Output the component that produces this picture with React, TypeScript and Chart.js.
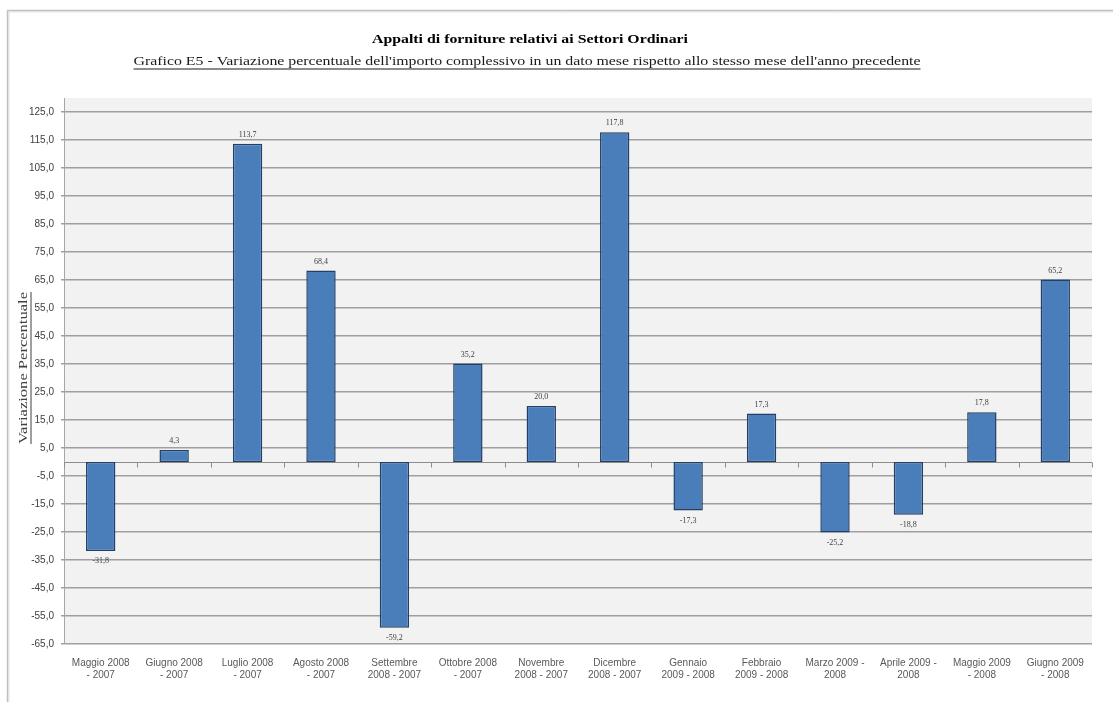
import React, { useEffect, useRef } from "react";
import { Chart, registerables } from "chart.js";

Chart.register(...registerables);

const TITLE = "Appalti di forniture relativi ai Settori Ordinari";
const SUBTITLE =
  "Grafico E5 - Variazione percentuale dell'importo complessivo in un dato mese rispetto allo stesso mese dell'anno precedente";
const Y_TITLE = "Variazione Percentuale";

const categories: string[][] = [
  ["Maggio 2008", "- 2007"],
  ["Giugno 2008", "- 2007"],
  ["Luglio 2008", "- 2007"],
  ["Agosto 2008", "- 2007"],
  ["Settembre", "2008 - 2007"],
  ["Ottobre 2008", "- 2007"],
  ["Novembre", "2008 - 2007"],
  ["Dicembre", "2008 - 2007"],
  ["Gennaio", "2009 - 2008"],
  ["Febbraio", "2009 - 2008"],
  ["Marzo 2009 -", "2008"],
  ["Aprile 2009 -", "2008"],
  ["Maggio 2009", "- 2008"],
  ["Giugno 2009", "- 2008"],
];

const values: number[] = [
  -31.8, 4.3, 113.7, 68.4, -59.2, 35.2, 20.0, 117.8, -17.3, 17.3, -25.2, -18.8, 17.8, 65.2,
];

const yTicks: number[] = [
  -65, -55, -45, -35, -25, -15, -5, 5, 15, 25, 35, 45, 55, 65, 75, 85, 95, 105, 115, 125,
];
const Y_MIN = -65;
const Y_MAX = 130;

const fmt = (v: number) => v.toFixed(1).replace(".", ",");

function drawStretched(ctx: CanvasRenderingContext2D, text: string, cx: number, cy: number, targetW: number, underline: boolean) {
  const w = ctx.measureText(text).width;
  const k = targetW / w;
  ctx.save();
  ctx.translate(cx, cy);
  ctx.scale(k, 1);
  ctx.fillText(text, 0, 0);
  if (underline) {
    ctx.lineWidth = 1;
    ctx.beginPath();
    ctx.moveTo(-w / 2, 7);
    ctx.lineTo(w / 2, 7);
    ctx.stroke();
  }
  ctx.restore();
}

const decorPlugin = {
  id: "decor",
  beforeDraw(chart: any) {
    const { ctx, chartArea } = chart;
    const W = chart.width;
    const H = chart.height;
    ctx.save();
    ctx.fillStyle = "#ffffff";
    ctx.fillRect(0, 0, W, H);
    // frame
    ctx.strokeStyle = "#e4e4e4";
    ctx.lineWidth = 3;
    ctx.beginPath();
    ctx.moveTo(8, H);
    ctx.lineTo(8, 11);
    ctx.lineTo(W, 11);
    ctx.stroke();
    ctx.strokeStyle = "#c0c0c0";
    ctx.lineWidth = 1;
    ctx.beginPath();
    ctx.moveTo(7.5, H);
    ctx.lineTo(7.5, 10.5);
    ctx.lineTo(W, 10.5);
    ctx.stroke();

    ctx.textAlign = "center";
    ctx.textBaseline = "middle";
    // title
    ctx.fillStyle = "#000000";
    ctx.font = "bold 12px 'Liberation Serif', serif";
    drawStretched(ctx, TITLE, 530, 40, 316, false);

    // subtitle (underlined)
    ctx.font = "12px 'Liberation Serif', serif";
    ctx.fillStyle = "#1a1a1a";
    ctx.strokeStyle = "#1a1a1a";
    drawStretched(ctx, SUBTITLE, 527, 62, 787, true);

    // y title rotated, underlined
    ctx.save();
    ctx.translate(24, 368);
    ctx.rotate(-Math.PI / 2);
    ctx.font = "12px 'Liberation Serif', serif";
    ctx.fillStyle = "#404040";
    ctx.strokeStyle = "#404040";
    drawStretched(ctx, Y_TITLE, 0, 0, 152, true);
    ctx.restore();

    // plot background
    ctx.fillStyle = "#f2f2f2";
    ctx.fillRect(chartArea.left, chartArea.top, chartArea.right - chartArea.left, chartArea.bottom - chartArea.top);
    ctx.restore();
  },
  beforeDatasetsDraw(chart: any) {
    const { ctx, chartArea, scales } = chart;
    const y0 = Math.round(scales.y.getPixelForValue(0)) + 0.5;
    ctx.save();
    ctx.strokeStyle = "#8c8c8c";
    ctx.lineWidth = 1;
    ctx.beginPath();
    ctx.moveTo(chartArea.left, y0);
    ctx.lineTo(chartArea.right, y0);
    const n = categories.length;
    const step = (chartArea.right - chartArea.left) / n;
    for (let i = 0; i <= n; i++) {
      const x = Math.round(chartArea.left + i * step) + 0.5;
      ctx.moveTo(x, y0);
      ctx.lineTo(x, y0 + 5);
    }
    ctx.stroke();
    ctx.restore();
  },
  afterDatasetsDraw(chart: any) {
    const { ctx } = chart;
    const meta = chart.getDatasetMeta(0);
    ctx.save();
    ctx.font = "8px 'Liberation Serif', serif";
    ctx.fillStyle = "#404040";
    ctx.textAlign = "center";
    ctx.textBaseline = "middle";
    meta.data.forEach((el: any, i: number) => {
      const v = values[i];
      const y = v >= 0 ? el.y - 9 : el.y + 10;
      ctx.fillText(fmt(v), el.x, y);
    });
    ctx.restore();
  },
};

export default function App() {
  const ref = useRef<HTMLCanvasElement | null>(null);
  useEffect(() => {
    if (!ref.current) return;
    const chart = new Chart(ref.current, {
      type: "bar",
      data: {
        labels: categories,
        datasets: [
          {
            data: values,
            backgroundColor: "#4a7ebb",
            borderColor: "#233f66",
            borderWidth: 1.5,
            borderSkipped: false,
            barPercentage: 0.4,
            categoryPercentage: 1,
          },
        ],
      },
      options: {
        animation: false,
        responsive: false,
        devicePixelRatio: 1,
        layout: { padding: { top: 98, left: 24, right: 21, bottom: 8 } },
        plugins: {
          legend: { display: false },
          title: { display: false },
          tooltip: { enabled: false },
        },
        scales: {
          x: {
            grid: { display: false, drawTicks: false },
            border: { display: false },
            ticks: {
              autoSkip: false,
              maxRotation: 0,
              minRotation: 0,
              padding: 13,
              color: "#595959",
              font: { family: "'Liberation Sans', sans-serif", size: 10 },
            },
            afterFit: (s: any) => {
              s.height = 50;
            },
          },
          y: {
            min: Y_MIN,
            max: Y_MAX,
            afterBuildTicks: (s: any) => {
              s.ticks = yTicks.map((v) => ({ value: v }));
            },
            afterFit: (s: any) => {
              s.width = 40;
            },
            grid: { color: "#9f9f9f", lineWidth: 1.5, drawTicks: true, tickLength: 3 },
            border: { display: true, color: "#a6a6a6" },
            ticks: {
              padding: 7,
              color: "#404040",
              font: { family: "'Liberation Sans', sans-serif", size: 10 },
              callback: (v: any) => fmt(Number(v)),
            },
          },
        },
      },
      plugins: [decorPlugin],
    });
    return () => chart.destroy();
  }, []);
  return (
    <div style={{ position: "fixed", left: 0, top: 0, width: 1113, height: 702 }}>
      <canvas ref={ref} width={1113} height={702} style={{ display: "block" }} />
    </div>
  );
}
